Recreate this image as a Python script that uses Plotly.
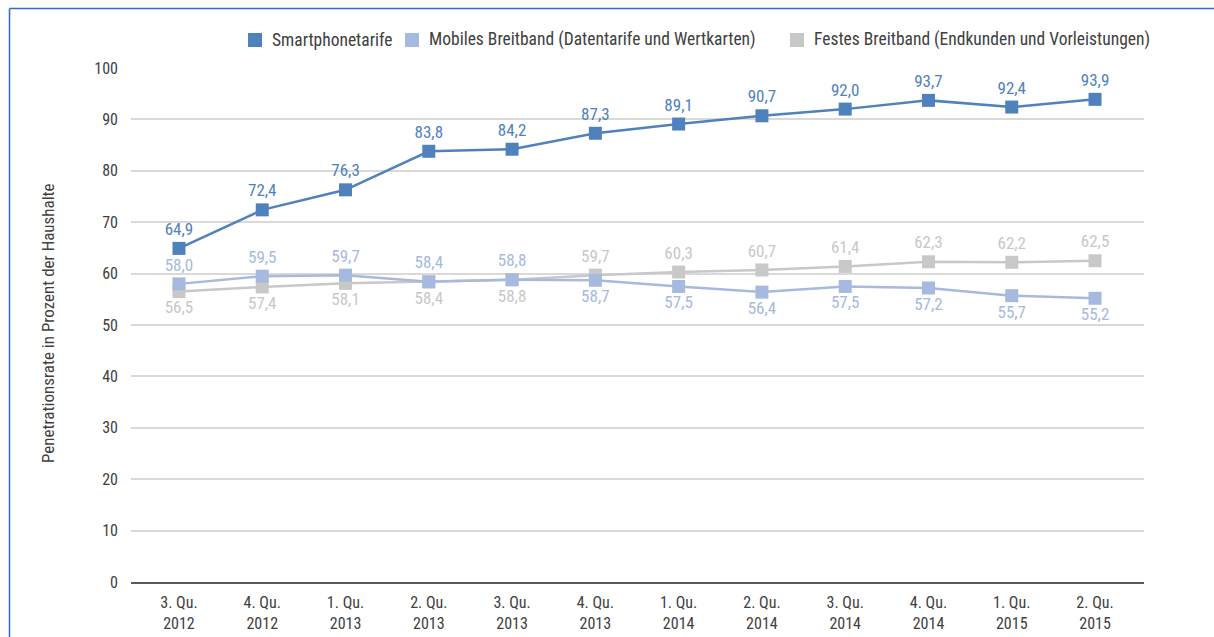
import plotly.graph_objects as go

categories = ["3. Qu.<br>2012", "4. Qu.<br>2012", "1. Qu.<br>2013", "2. Qu.<br>2013",
              "3. Qu.<br>2013", "4. Qu.<br>2013", "1. Qu.<br>2014", "2. Qu.<br>2014",
              "3. Qu.<br>2014", "4. Qu.<br>2014", "1. Qu.<br>2015", "2. Qu.<br>2015"]
smartphone = [64.9, 72.4, 76.3, 83.8, 84.2, 87.3, 89.1, 90.7, 92.0, 93.7, 92.4, 93.9]
mobil = [58.0, 59.5, 59.7, 58.4, 58.8, 58.7, 57.5, 56.4, 57.5, 57.2, 55.7, 55.2]
festes = [56.5, 57.4, 58.1, 58.4, 58.8, 59.7, 60.3, 60.7, 61.4, 62.3, 62.2, 62.5]
series_names = ["Smartphonetarife", "Mobiles Breitband (Datentarife und Wertkarten)",
                "Festes Breitband (Endkunden und Vorleistungen)"]
y_ticks = [0, 10, 20, 30, 40, 50, 60, 70, 80, 90, 100]

C_SMART = "#4f81bd"
C_MOBIL = "#a6b9de"
C_FEST = "#c8c8c8"
FONT = "Liberation Sans Narrow, Roboto Condensed, Arial Narrow, Roboto, sans-serif"

def fmt(v):
    return f"{v:.1f}".replace(".", ",")

x = list(range(len(categories)))

mobil_pos = ["top center" if m >= f else "bottom center" for m, f in zip(mobil, festes)]
fest_pos = ["bottom center" if m >= f else "top center" for m, f in zip(mobil, festes)]

fig = go.Figure()
fig.add_trace(go.Scatter(x=x, y=festes, mode="lines+markers+text", name=series_names[2],
                         line=dict(color=C_FEST, width=2.5),
                         marker=dict(symbol="square", size=13, color=C_FEST),
                         text=[fmt(v) for v in festes], textposition=fest_pos,
                         textfont=dict(color=C_FEST, size=17, family=FONT),
                         showlegend=False, cliponaxis=False))
fig.add_trace(go.Scatter(x=x, y=mobil, mode="lines+markers+text", name=series_names[1],
                         line=dict(color=C_MOBIL, width=2.5),
                         marker=dict(symbol="square", size=13, color=C_MOBIL),
                         text=[fmt(v) for v in mobil], textposition=mobil_pos,
                         textfont=dict(color=C_MOBIL, size=17, family=FONT),
                         showlegend=False, cliponaxis=False))
fig.add_trace(go.Scatter(x=x, y=smartphone, mode="lines+markers+text", name=series_names[0],
                         line=dict(color=C_SMART, width=2.5),
                         marker=dict(symbol="square", size=13, color=C_SMART),
                         text=[fmt(v) for v in smartphone], textposition="top center",
                         textfont=dict(color=C_SMART, size=17, family=FONT),
                         showlegend=False, cliponaxis=False))

W, H = 1214, 637
L, R, T, B = 131, 70, 68, 55
pw, ph = W - L - R, H - T - B

def px_x(p):
    return (p - L) / pw

def px_y(p):
    return (H - B - p) / ph

shapes = []
annotations = []
# frame lines (top and left)
shapes.append(dict(type="line", xref="paper", yref="paper", x0=px_x(9.5), x1=px_x(1214),
                   y0=px_y(8.5), y1=px_y(8.5), line=dict(color="#2f6db5", width=1.5)))
shapes.append(dict(type="line", xref="paper", yref="paper", x0=px_x(9.5), x1=px_x(9.5),
                   y0=px_y(8.5), y1=px_y(640), line=dict(color="#2f6db5", width=1.5)))

# manual legend
legend_items = [(248, series_names[0], C_SMART), (405, series_names[1], C_MOBIL),
                (790, series_names[2], C_FEST)]
for lx, name, col in legend_items:
    shapes.append(dict(type="rect", xref="paper", yref="paper", x0=px_x(lx), x1=px_x(lx + 14),
                       y0=px_y(47), y1=px_y(33), fillcolor=col, line=dict(width=0)))
    annotations.append(dict(xref="paper", yref="paper", x=px_x(lx + 22), y=px_y(40),
                            xanchor="left", yanchor="middle", text=name, showarrow=False,
                            font=dict(family=FONT, size=17.5, color="#404040")))

# y-axis title
annotations.append(dict(xref="paper", yref="paper", x=px_x(48), y=px_y(323),
                        xanchor="center", yanchor="middle", textangle=-90, showarrow=False,
                        text="Penetrationsrate in Prozent der Haushalte",
                        font=dict(family=FONT, size=17, color="#404040")))

fig.update_layout(
    width=W, height=H,
    margin=dict(l=L, r=R, t=T, b=B, autoexpand=False),
    paper_bgcolor="white", plot_bgcolor="white",
    font=dict(family=FONT, size=16, color="#404040"),
    shapes=shapes, annotations=annotations,
    showlegend=False,
)
fig.update_xaxes(range=[-0.576, 11.588], tickvals=x, ticktext=categories, automargin=False,
                 showgrid=False, zeroline=False, showline=True, linecolor="#595959",
                 linewidth=1.5, ticks="", ticklabelstandoff=5,
                 tickfont=dict(family=FONT, size=16, color="#404040"))
fig.update_yaxes(range=[0, 100], tickvals=y_ticks, showgrid=True, gridcolor="#d9d9d9",
                 gridwidth=1.5, zeroline=False, showline=False, ticks="", automargin=False,
                 ticklabelstandoff=12,
                 tickfont=dict(family=FONT, size=16, color="#404040"))

fig.write_html("out.html")
